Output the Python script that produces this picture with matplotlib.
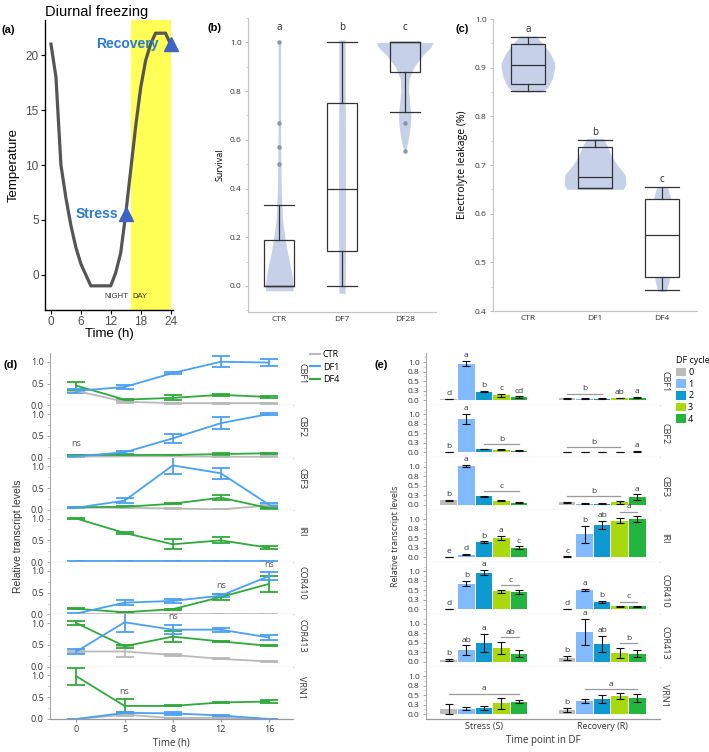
import matplotlib
matplotlib.use('Agg')
import matplotlib.pyplot as plt
import numpy as np
from matplotlib.patches import Patch
from matplotlib.lines import Line2D
from matplotlib.ticker import MultipleLocator, FixedLocator

# ---------------- data ----------------
# (a) diurnal temperature profile
a_hours = list(range(25))
a_temps = [21, 18, 10, 7, 4.5, 2.5, 1, 0, -1, -1, -1, -1, -1, 0.2, 2, 5.5,
           9.5, 13.5, 17, 19.5, 21, 22, 22, 22, 21]
a_stress = (15, 5.5)
a_recovery = (24, 21)
a_xticks = [0, 6, 12, 18, 24]
a_yticks = [0, 5, 10, 15, 20]

# (b) survival
b_cats = ['CTR', 'DF7', 'DF28']
b_q1 = [0.0, 0.144, 0.88]
b_med = [0.0, 0.40, 1.0]
b_q3 = [0.189, 0.75, 1.0]
b_wlo = [0.0, 0.0, 0.713]
b_whi = [0.333, 1.0, 1.0]
b_out = [[0.5, 0.572, 0.667, 1.0], [], [0.667, 0.556]]
b_letters = ['a', 'b', 'c']
b_vio_y = [[-0.02, 0.0, 0.05, 0.1, 0.15, 0.2, 0.25, 0.3, 0.4, 0.5, 0.6, 0.7, 0.8, 0.9, 1.0],
           [-0.03, 0.2, 0.5, 0.8, 1.01],
           [0.55, 0.58, 0.62, 0.66, 0.7, 0.75, 0.8, 0.85, 0.9, 0.95, 0.98, 1.0]]
b_vio_w = [[0.22, 0.22, 0.2, 0.16, 0.12, 0.09, 0.06, 0.045, 0.03, 0.025, 0.02, 0.018, 0.018, 0.018, 0.02],
           [0.05, 0.055, 0.055, 0.05, 0.05],
           [0.0, 0.04, 0.07, 0.09, 0.1, 0.08, 0.06, 0.07, 0.15, 0.3, 0.42, 0.45]]

# (c) electrolyte leakage
c_cats = ['CTR', 'DF1', 'DF4']
c_q1 = [0.866, 0.652, 0.470]
c_med = [0.906, 0.675, 0.557]
c_q3 = [0.948, 0.736, 0.631]
c_wlo = [0.852, 0.652, 0.443]
c_whi = [0.963, 0.752, 0.654]
c_letters = ['a', 'b', 'c']
c_vio_y = [[0.85, 0.86, 0.88, 0.9, 0.91, 0.93, 0.95, 0.965],
           [0.65, 0.66, 0.68, 0.7, 0.72, 0.74, 0.755],
           [0.44, 0.46, 0.5, 0.55, 0.6, 0.63, 0.655]]
c_vio_w = [[0.2, 0.3, 0.37, 0.4, 0.4, 0.33, 0.22, 0.12],
           [0.42, 0.46, 0.45, 0.33, 0.24, 0.18, 0.12],
           [0.06, 0.1, 0.14, 0.17, 0.16, 0.13, 0.08]]

# (d) time course
d_genes = ['CBF1', 'CBF2', 'CBF3', 'IRI', 'COR410', 'COR413', 'VRN1']
d_times = ['0', '5', '8', '12', '16']
d_ctr = [[0.33, 0.08, 0.05, 0.05, 0.05], [0.02, 0.03, 0.03, 0.02, 0.02],
         [0.05, 0.05, 0.03, 0.01, 0.1], [0.0, 0.0, 0.0, 0.0, 0.0],
         [0.0, 0.0, 0.0, 0.0, 0.0], [0.35, 0.35, 0.27, 0.18, 0.12],
         [0.0, 0.1, 0.02, 0.03, 0.0]]
d_ctr_err = [[0.02, 0.02, 0.01, 0.01, 0.01], [0.005] * 5, [0.005] * 5, [0.005] * 5,
             [0.005] * 5, [0.02, 0.12, 0.03, 0.01, 0.01], [0.005, 0.02, 0.005, 0.005, 0.005]]
d_df1 = [[0.33, 0.42, 0.74, 1.0, 0.98], [0.03, 0.12, 0.44, 0.79, 1.0],
         [0.05, 0.21, 1.02, 0.84, 0.12], [0.02, 0.02, 0.02, 0.02, 0.02],
         [0.02, 0.27, 0.31, 0.43, 0.88], [0.35, 1.02, 0.85, 0.85, 0.67],
         [0.0, 0.14, 0.13, 0.08, 0.0]]
d_df1_err = [[0.05, 0.04, 0.02, 0.13, 0.08], [0.01, 0.04, 0.1, 0.14, 0.03],
             [0.01, 0.06, 0.19, 0.13, 0.04], [0.01] * 5,
             [0.01, 0.06, 0.04, 0.04, 0.09], [0.05, 0.23, 0.1, 0.05, 0.05],
             [0.005, 0.03, 0.04, 0.01, 0.005]]
d_df4 = [[0.45, 0.13, 0.17, 0.24, 0.19], [0.06, 0.06, 0.06, 0.08, 0.1],
         [0.06, 0.07, 0.14, 0.28, 0.04], [1.0, 0.67, 0.41, 0.5, 0.33],
         [0.13, 0.05, 0.12, 0.4, 0.7], [1.0, 0.47, 0.69, 0.58, 0.48],
         [0.98, 0.3, 0.3, 0.38, 0.4]]
d_df4_err = [[0.09, 0.02, 0.06, 0.02, 0.02], [0.01, 0.02, 0.01, 0.02, 0.01],
             [0.01, 0.01, 0.01, 0.05, 0.01], [0.02, 0.02, 0.11, 0.07, 0.03],
             [0.01, 0.01, 0.01, 0.07, 0.19], [0.05, 0.03, 0.12, 0.01, 0.01],
             [0.2, 0.15, 0.01, 0.01, 0.03]]
# "ns" annotations: (gene index, time index, y)
d_ns = [(1, 0, 0.22), (4, 3, 0.57), (4, 4, 1.05), (5, 2, 1.05), (6, 1, 0.52)]

# (e) bar chart
e_genes = ['CBF1', 'CBF2', 'CBF3', 'IRI', 'COR410', 'COR413', 'VRN1']
e_cycles = ['0', '1', '2', '3', '4']
e_groups = ['Stress (S)', 'Recovery (R)']
e_S_mean = [[0.02, 0.96, 0.22, 0.12, 0.08], [0.01, 0.88, 0.09, 0.07, 0.04],
            [0.12, 1.02, 0.22, 0.10, 0.05], [0.0, 0.06, 0.39, 0.50, 0.25],
            [0.01, 0.68, 0.97, 0.48, 0.46], [0.05, 0.30, 0.50, 0.36, 0.21],
            [0.14, 0.14, 0.17, 0.28, 0.33]]
e_S_err = [[0.005, 0.06, 0.02, 0.04, 0.015], [0.005, 0.13, 0.01, 0.01, 0.01],
           [0.01, 0.03, 0.015, 0.015, 0.01], [0.003, 0.01, 0.02, 0.05, 0.03],
           [0.005, 0.07, 0.06, 0.035, 0.055], [0.02, 0.13, 0.24, 0.16, 0.09],
           [0.13, 0.045, 0.05, 0.14, 0.03]]
e_R_mean = [[0.04, 0.03, 0.03, 0.05, 0.06], [0.01, 0.01, 0.01, 0.01, 0.02],
            [0.06, 0.03, 0.03, 0.06, 0.20], [0.01, 0.60, 0.84, 0.96, 1.0],
            [0.01, 0.51, 0.19, 0.08, 0.08], [0.10, 0.78, 0.46, 0.24, 0.21],
            [0.11, 0.35, 0.39, 0.48, 0.43]]
e_R_err = [[0.01, 0.01, 0.01, 0.01, 0.01], [0.005, 0.005, 0.005, 0.005, 0.01],
           [0.02, 0.01, 0.01, 0.04, 0.07], [0.005, 0.22, 0.11, 0.07, 0.08],
           [0.005, 0.03, 0.03, 0.005, 0.005], [0.05, 0.35, 0.21, 0.13, 0.09],
           [0.05, 0.06, 0.11, 0.07, 0.11]]
e_S_letters = [[(0, 0, 'd'), (1, 1, 'a'), (2, 2, 'b'), (3, 3, 'c'), (4, 4, 'cd')],
               [(0, 0, 'b'), (1, 1, 'a'), (2, 4, 'b')],
               [(0, 0, 'b'), (1, 1, 'a'), (2, 4, 'c')],
               [(0, 0, 'e'), (1, 1, 'd'), (2, 2, 'b'), (3, 3, 'a'), (4, 4, 'c')],
               [(0, 0, 'd'), (1, 1, 'b'), (2, 2, 'a'), (3, 4, 'c')],
               [(0, 0, 'b'), (1, 1, 'ab'), (2, 2, 'a'), (3, 4, 'ab')],
               [(0, 4, 'a')]]
e_R_letters = [[(0, 2, 'b'), (3, 3, 'ab'), (4, 4, 'a')],
               [(0, 3, 'b'), (4, 4, 'a')],
               [(0, 3, 'b'), (4, 4, 'a')],
               [(0, 0, 'c'), (1, 1, 'b'), (2, 2, 'ab'), (3, 4, 'a')],
               [(0, 0, 'd'), (1, 1, 'a'), (2, 2, 'b'), (3, 4, 'c')],
               [(0, 0, 'b'), (1, 1, 'a'), (2, 2, 'ab'), (3, 4, 'b')],
               [(0, 0, 'b'), (1, 4, 'a')]]
e_yticks = [0, 0.25, 0.5, 0.75, 1.0]
e_yticklabels = ['0.0', '0.3', '0.5', '0.8', '1.0']

# ---------------- style ----------------
W, H = 709, 752
fig = plt.figure(figsize=(W / 100, H / 100), dpi=100)
SANS = ['Open Sans', 'DejaVu Sans']
HELV = ['Liberation Sans', 'DejaVu Sans']
plt.rcParams['font.family'] = SANS
VIO = '#c6d0e9'
BOXC = '#333333'
TXT = '#333333'


def rect(l, t, r, b):
    return [l / W, 1 - b / H, (r - l) / W, (b - t) / H]


# ---------------- (a) ----------------
ax = fig.add_axes(rect(45, 20, 173, 310))
ax.axvspan(16, 24, color='#ffff55', zorder=0, lw=0)
ax.plot(a_hours, a_temps, color='#555555', lw=2.3, zorder=2, solid_joinstyle='round')
ax.plot(*a_stress, marker='^', ms=10, color='#3d63c4', zorder=3, clip_on=False)
ax.plot(*a_recovery, marker='^', ms=10, color='#3d63c4', zorder=3, clip_on=False)
ax.text(a_stress[0] - 1.5, a_stress[1], 'Stress', color='#2a7bd0', fontsize=10,
        fontweight='bold', ha='right', va='center', family=HELV)
ax.text(a_recovery[0] - 2.3, a_recovery[1], 'Recovery', color='#2a7bd0', fontsize=10,
        fontweight='bold', ha='right', va='center', family=HELV)
ax.text(15.5, -2.0, 'NIGHT', fontsize=5.5, ha='right', va='center', color='#333333', family=HELV)
ax.text(16.4, -2.0, 'DAY', fontsize=5.5, ha='left', va='center', color='#333333', family=HELV)
ax.set_xlim(-1.2, 24.5)
ax.set_ylim(-3.2, 23.2)
ax.set_xticks(a_xticks)
ax.set_yticks(a_yticks)
for s in ['top', 'right']:
    ax.spines[s].set_visible(False)
for s in ['left', 'bottom']:
    ax.spines[s].set_color('black')
    ax.spines[s].set_linewidth(1.0)
ax.tick_params(labelsize=8.5, labelcolor='#4d4d4d', length=3, width=0.8, pad=1.5)
for lab in ax.get_xticklabels() + ax.get_yticklabels():
    lab.set_family(HELV)
ax.set_xlabel('Time (h)', fontsize=9.5, family=HELV, labelpad=0)
ax.set_ylabel('Temperature', fontsize=9.5, family=HELV, labelpad=4)
ax.set_title('Diurnal freezing', loc='left', fontsize=10.5, family=HELV, pad=3)


def light_axes(ax):
    for s in ['top', 'right']:
        ax.spines[s].set_visible(False)
    for s in ['left', 'bottom']:
        ax.spines[s].set_color('#c4c4c4')
        ax.spines[s].set_linewidth(0.8)
    ax.tick_params(labelsize=6, labelcolor=TXT, color='#aaaaaa', length=2.5, width=0.6, pad=2)
    ax.tick_params(which='minor', length=1.5, color='#bbbbbb', width=0.5)


def boxes(ax, q1, med, q3, wlo, whi, fliers, width, faces):
    stats = []
    for i in range(len(q1)):
        stats.append(dict(med=med[i], q1=q1[i], q3=q3[i], whislo=wlo[i], whishi=whi[i],
                          fliers=fliers[i] if fliers else []))
    bp = ax.bxp(stats, positions=range(len(q1)), widths=width, patch_artist=True,
                showfliers=True,
                boxprops=dict(edgecolor=BOXC, linewidth=0.9),
                medianprops=dict(color=BOXC, linewidth=0.9),
                whiskerprops=dict(color=BOXC, linewidth=0.9),
                capprops=dict(color=BOXC, linewidth=0.9),
                capwidths=width,
                flierprops=dict(marker='o', markerfacecolor='#8d93a6', markeredgecolor='none',
                                markersize=3.2),
                manage_ticks=False, zorder=3)
    for p, f in zip(bp['boxes'], faces):
        p.set_facecolor(f)


# ---------------- (b) ----------------
ax = fig.add_axes(rect(248, 18, 436, 312))
for i in range(3):
    y = np.array(b_vio_y[i]); w = np.array(b_vio_w[i])
    ax.fill_betweenx(y, i - w, i + w, color=VIO, lw=0, zorder=1)
boxes(ax, b_q1, b_med, b_q3, b_wlo, b_whi, b_out, 0.48, ['none', 'none', 'none'])
for i, t in enumerate(b_letters):
    ax.text(i, 1.04, t, ha='center', va='bottom', fontsize=7, color='#222222')
ax.set_xlim(-0.5, 2.5)
ax.set_ylim(-0.107, 1.1)
ax.set_xticks(range(3))
ax.set_xticklabels(b_cats)
ax.set_yticks([0, 0.2, 0.4, 0.6, 0.8, 1.0])
ax.set_yticklabels(['0.0', '0.2', '0.4', '0.6', '0.8', '1.0'])
ax.yaxis.set_minor_locator(MultipleLocator(0.1))
light_axes(ax)
ax.tick_params(axis='x', length=0, pad=3)
ax.set_ylabel('Survival', fontsize=6.5, labelpad=4)

# ---------------- (c) ----------------
ax = fig.add_axes(rect(493, 19, 697, 311))
for i in range(3):
    y = np.array(c_vio_y[i]); w = np.array(c_vio_w[i])
    ax.fill_betweenx(y, i - w, i + w, color=VIO, lw=0, zorder=1)
boxes(ax, c_q1, c_med, c_q3, c_wlo, c_whi, None, 0.5, ['none', 'none', 'white'])
for i, t in enumerate(c_letters):
    ax.text(i, c_whi[i] + 0.004, t, ha='center', va='bottom', fontsize=7, color='#222222')
ax.set_xlim(-0.52, 2.52)
ax.set_ylim(0.4, 1.0)
ax.set_xticks(range(3))
ax.set_xticklabels(c_cats)
ax.set_yticks([0.4, 0.5, 0.6, 0.7, 0.8, 0.9, 1.0])
ax.yaxis.set_minor_locator(MultipleLocator(0.05))
light_axes(ax)
ax.tick_params(axis='x', length=0, pad=3)
ax.set_ylabel('Electrolyte leakage (%)', fontsize=7.5, labelpad=5)

# ---------------- (d) ----------------
d_top, d_bot = 353, 719
rh = (d_bot - d_top) / 7
xs = np.arange(len(d_times))
C_CTR, C_DF1, C_DF4 = '#b9b9b9', '#4aa0f5', '#2faa3a'
for i, g in enumerate(d_genes):
    ax = fig.add_axes(rect(50, d_top + i * rh, 293, d_top + (i + 1) * rh))
    for m, e, c in [(d_ctr[i], d_ctr_err[i], C_CTR), (d_df4[i], d_df4_err[i], C_DF4),
                    (d_df1[i], d_df1_err[i], C_DF1)]:
        ax.errorbar(xs, m, yerr=e, color=c, lw=1.3, elinewidth=1.3, capsize=6.5,
                    capthick=1.3)
    ax.set_xlim(-0.55, 4.5)
    ax.set_ylim(0, 1.2)
    ax.set_yticks([0, 0.5, 1.0])
    ax.set_yticklabels(['0.0', '0.5', '1.0'])
    ax.yaxis.set_minor_locator(FixedLocator([0.25, 0.75]))
    for s in ['top', 'right']:
        ax.spines[s].set_visible(False)
    ax.spines['left'].set_color('#aaaaaa')
    ax.spines['left'].set_linewidth(0.8)
    ax.spines['bottom'].set_color('#d0d0d0' if i < 6 else '#999999')
    ax.spines['bottom'].set_linewidth(0.9)
    ax.tick_params(axis='y', labelsize=6.5, labelcolor=TXT, color='#999999', length=2.5,
                   width=0.6, pad=2)
    ax.tick_params(axis='y', which='minor', length=1.5, color='#aaaaaa', width=0.5)
    ax.set_xticks(xs)
    if i < 6:
        ax.tick_params(axis='x', length=0, labelbottom=False)
    else:
        ax.set_xticklabels(d_times)
        ax.tick_params(axis='x', labelsize=6.5, labelcolor=TXT, length=2, color='#999999',
                       pad=2)
        ax.set_xlabel('Time (h)', fontsize=7, labelpad=3, color=TXT)
    ax.text(1.037, 0.6, g, rotation=270, transform=ax.transAxes, ha='center', va='center',
            fontsize=6.5, color=TXT)
    for (gi, ti, yv) in d_ns:
        if gi == i:
            ax.text(xs[ti], yv, 'ns', ha='center', va='bottom', fontsize=6.5, color='#555555')
    if i == 0:
        handles = [Line2D([], [], color=C_CTR, lw=1.5), Line2D([], [], color=C_DF1, lw=1.5),
                   Line2D([], [], color=C_DF4, lw=1.5)]
        ax.legend(handles, ['CTR', 'DF1', 'DF4'], loc='upper left', bbox_to_anchor=(1.07, 1.05),
                  frameon=False, fontsize=6.5, handlelength=1.1, handletextpad=0.3,
                  labelspacing=0.35, borderpad=0, borderaxespad=0)
fig.text(18 / W, 1 - 536 / H, 'Relative transcript levels', rotation=90, ha='center',
         va='center', fontsize=7.5, family=HELV, color=TXT)

# ---------------- (e) ----------------
e_top, e_bot = 352.6, 719
rh = (e_bot - e_top) / 7
e_colors = ['#bcbcbc', '#82baff', '#0d9ad1', '#a9d90c', '#23b43d']
e_centers = [0.0, 6.75]
offs = np.arange(5) - 2
for i, g in enumerate(e_genes):
    ax = fig.add_axes(rect(426, e_top + i * rh, 660, e_top + (i + 1) * rh))
    for gi, (means, errs, letters) in enumerate([(e_S_mean[i], e_S_err[i], e_S_letters[i]),
                                                  (e_R_mean[i], e_R_err[i], e_R_letters[i])]):
        bx = e_centers[gi] + offs
        ax.bar(bx, means, width=0.95, color=e_colors, zorder=2)
        ax.errorbar(bx, means, yerr=errs, fmt='none', ecolor='#111111', elinewidth=0.8,
                    capsize=3.2, capthick=0.8, zorder=3)
        tops = np.array(means) + np.array(errs)
        for (s, e_, t) in letters:
            if s == e_:
                ax.text(bx[s], tops[s] + 0.05, t, ha='center', va='bottom', fontsize=6,
                        color=TXT, clip_on=False)
            else:
                ly = tops[s:e_ + 1].max() + 0.12
                ax.plot([bx[s], bx[e_]], [ly, ly], color='#9a9a9a', lw=0.9, zorder=3)
                ax.text((bx[s] + bx[e_]) / 2, ly + 0.03, t, ha='center', va='bottom',
                        fontsize=6, color=TXT, clip_on=False)
    ax.set_xlim(-3.3, 10.05)
    ax.set_ylim(-0.13, 1.25)
    ax.set_yticks(e_yticks)
    ax.set_yticklabels(e_yticklabels)
    ax.yaxis.set_minor_locator(FixedLocator([0.125, 0.375, 0.625, 0.875, 1.125]))
    for s in ['top', 'right']:
        ax.spines[s].set_visible(False)
    ax.spines['left'].set_color('#aaaaaa')
    ax.spines['left'].set_linewidth(0.8)
    ax.spines['bottom'].set_color('#d0d0d0' if i < 6 else '#999999')
    ax.spines['bottom'].set_linewidth(0.9)
    ax.tick_params(axis='y', labelsize=6, labelcolor=TXT, color='#999999', length=2.5,
                   width=0.6, pad=2)
    ax.tick_params(axis='y', which='minor', length=1.5, color='#aaaaaa', width=0.5)
    ax.set_xticks(e_centers)
    if i < 6:
        ax.tick_params(axis='x', length=0, labelbottom=False)
    else:
        ax.set_xticklabels(e_groups)
        ax.tick_params(axis='x', labelsize=6.5, labelcolor=TXT, length=0, pad=2)
        ax.set_xlabel('Time point in DF', fontsize=7, labelpad=3, color=TXT)
    ax.text(1.02, 0.45, g, rotation=270, transform=ax.transAxes, ha='center', va='center',
            fontsize=6.5, color=TXT)
    if i == 0:
        handles = [Patch(facecolor=c, edgecolor='none') for c in e_colors]
        leg = ax.legend(handles, e_cycles, title='DF cycle', loc='upper left',
                        bbox_to_anchor=(1.07, 0.93), frameon=False, fontsize=6.5,
                        title_fontsize=6.5, handlelength=1.1, handleheight=1.1,
                        handletextpad=0.2, labelspacing=0.25, borderpad=0, borderaxespad=0)
        leg._legend_box.align = 'left'
fig.text(395 / W, 1 - 536 / H, 'Relative transcript levels', rotation=90, ha='center',
         va='center', fontsize=6.5, color=TXT)

# panel labels
for lab, x, y in [('(a)', 2, 30), ('(b)', 208, 28), ('(c)', 455, 29), ('(d)', 3, 365),
                  ('(e)', 375, 365)]:
    fig.text(x / W, 1 - y / H, lab, fontsize=8, fontweight='bold', ha='left', va='center',
             family=HELV)

fig.savefig('out.png', dpi=100)
